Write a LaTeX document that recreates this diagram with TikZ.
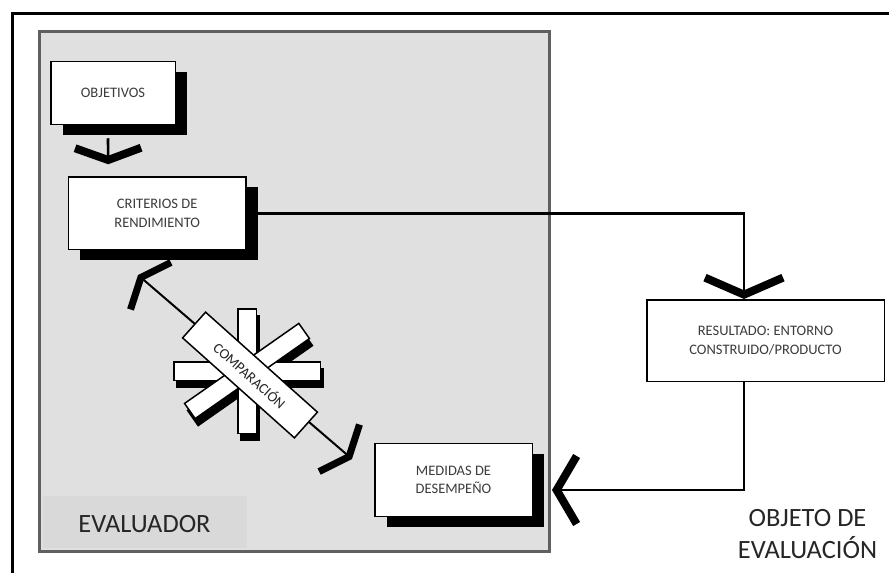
\documentclass[tikz,border=0pt]{standalone}
\usepackage{fontspec}
\setmainfont{Carlito}
\usetikzlibrary{positioning,arrows.meta,shadows}
\definecolor{panelgris}{RGB}{224,224,224}
\definecolor{panelgrisb}{RGB}{217,217,217}
\definecolor{bordegris}{RGB}{96,96,96}
\definecolor{textogris}{RGB}{60,60,60}
\tikzset{
  caja/.style={rectangle,draw=black,line width=1.5pt,fill=white,align=center,inner sep=0pt,text=textogris,font=\fontsize{14.5}{18.5}\selectfont},
  cajaS/.style={caja,drop shadow={shadow xshift=12pt,shadow yshift=-10pt,fill=black,opacity=1}},
  rotulo/.style={text=black!85,font=\fontsize{26.4}{31.6}\selectfont,align=center,inner sep=0pt},
  barra/.style={draw=black,line width=1.5pt,fill=white},
  linea/.style={line width=2.6pt},
  flechaA/.style={linea,-{Straight Barb[sharp,length=12pt,width=66pt,line width=8pt]}},
  flechaB/.style={linea,-{Straight Barb[sharp,length=17pt,width=78pt,line width=8pt]}},
  flechaC/.style={linea,-{Straight Barb[sharp,length=20pt,width=68pt,line width=8pt]}},
  flechaD/.style={line width=2pt,{Straight Barb[sharp,length=13pt,width=62pt,line width=7pt]}-{Straight Barb[sharp,length=13pt,width=62pt,line width=7pt]}},
}
\begin{document}
\begin{tikzpicture}[x=1pt,y=-1pt]
  \useasboundingbox (0,0) rectangle (889,573);
  \draw[line width=3pt] (12,573) -- (12,13) -- (889,13);
  \draw[draw=bordegris,fill=panelgris,line width=3pt] (39.5,31.7) rectangle (549.5,551.5);
  \fill[panelgrisb] (43,496) rectangle (247,548);
  \node[rotulo,anchor=base] (evaluador) at (144.5,532) {EVALUADOR};
  \node[rotulo,anchor=base] (objeto) at (807.5,558.3) {OBJETO DE\\EVALUACIÓN};

  \node[cajaS,minimum width=124.5pt,minimum height=63pt] (obj) at (113,93) {OBJETIVOS};
  \node[cajaS,minimum width=177.5pt,minimum height=72.5pt] (crit) [below right=51pt and 17.7pt of obj.south west] {CRITERIOS DE\\RENDIMIENTO};
  \node[caja,minimum width=237.5pt,minimum height=81.5pt] (res) at (765.5,340.5) {RESULTADO: ENTORNO\\CONSTRUIDO/PRODUCTO};
  \node[cajaS,minimum width=157.5pt,minimum height=73pt] (med) at (453.5,480) {MEDIDAS DE\\DESEMPEÑO};

  \draw[flechaA] ([xshift=-5pt,yshift=-13pt]obj.south) -- ([xshift=-49pt,yshift=12pt]crit.north);
  \draw[flechaB] (crit.east) -| ([xshift=-21.5pt]res.north);
  \draw[flechaC] ([xshift=-21.5pt]res.south) |- ([xshift=19pt,yshift=-10pt]med.east);

  \coordinate (cmpA) at (138,275);
  \coordinate (cmpB) at (352,459);
  \draw[flechaD] (cmpA) -- (cmpB);
  \begin{scope}[shift={(247,371)}]
    \foreach \ang/\lar in {90/62.25,0/73.25,35/69.75}
      \fill[black,shift={(3,7)},rotate=\ang] (-\lar-0.75,-10) rectangle (\lar+0.75,10);
    \foreach \ang/\lar in {90/62.25,0/73.25,35/69.75}
      \draw[barra,rotate=\ang] (-\lar,-9.25) rectangle (\lar,9.25);
  \end{scope}
  \node[caja,rotate=-41.8,minimum width=150pt,minimum height=34.5pt,text=black!85] (comp) at (250,375) {COMPARACIÓN};
\end{tikzpicture}
\end{document}
